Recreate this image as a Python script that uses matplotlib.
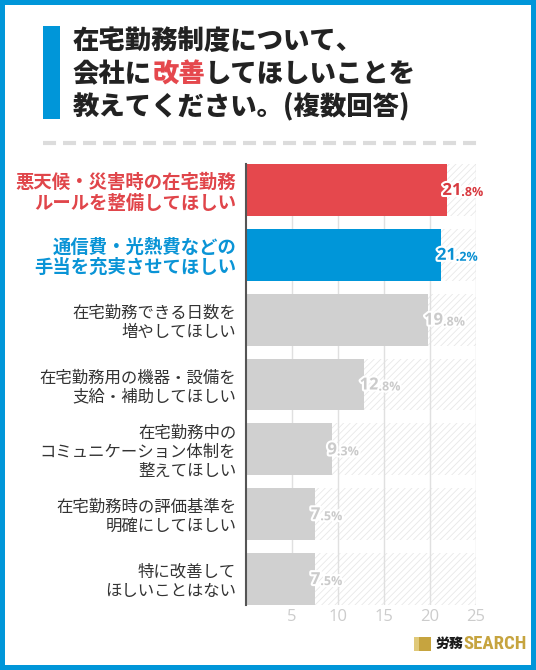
import matplotlib
matplotlib.use('Agg')
import matplotlib.pyplot as plt
from matplotlib.patches import Rectangle
from matplotlib.lines import Line2D
import matplotlib.patheffects as pe
from matplotlib import font_manager

plt.rcParams['font.family'] = ['Noto Sans CJK JP', 'DejaVu Sans']
plt.rcParams['hatch.linewidth'] = 0.6
plt.rcParams['lines.scale_dashes'] = False

# ---- data ----
categories = [
    '悪天候・災害時の在宅勤務\nルールを整備してほしい',
    '通信費・光熱費などの\n手当を充実させてほしい',
    '在宅勤務できる日数を\n増やしてほしい',
    '在宅勤務用の機器・設備を\n支給・補助してほしい',
    '在宅勤務中の\nコミュニケーション体制を\n整えてほしい',
    '在宅勤務時の評価基準を\n明確にしてほしい',
    '特に改善して\nほしいことはない',
]
values = [21.8, 21.2, 19.8, 12.8, 9.3, 7.5, 7.5]
xticks = [5, 10, 15, 20, 25]
xmax = 25

# ---- styles ----
RED = '#e5484d'
BLUE = '#0096d9'
GREY = '#d0d0d0'
bar_colors = [RED, BLUE] + [GREY] * 5
label_colors = ['#e0454a', '#0a94d6'] + ['#333333'] * 5
value_colors = ['#d83a40', '#0a90d2'] + ['#cbcbcb'] * 5
label_bold = [True, True] + [False] * 5

installed = {f.name for f in font_manager.fontManager.ttflist}
narrow = [n for n in ['Roboto Condensed', 'Liberation Sans Narrow'] if n in installed]
logo_family = narrow[0] if narrow else 'Roboto'
logo_size = 13.5 if narrow else 10.5

W, H = 536, 670
fig = plt.figure(figsize=(W / 100, H / 100), dpi=100)
fig.patch.set_facecolor('white')

# outer blue frame
fig.add_artist(Rectangle((0, 0), 1, 1, transform=fig.transFigure, fill=False,
                         ec=BLUE, lw=7.2))

# title accent bar
fig.add_artist(Rectangle((43 / W, 1 - 119 / H), 17 / W, 93 / H,
                         transform=fig.transFigure, fc=BLUE, ec='none'))

# dashed separator
fig.add_artist(Line2D([43 / W, 478 / W], [1 - 143 / H, 1 - 143 / H],
                      transform=fig.transFigure, color='#dcdcdc', lw=3.0,
                      dashes=(9.4, 5.0)))

ax = fig.add_axes([246 / W, 65 / H, 230 / W, 441 / H])

ypos = list(range(len(categories)))
# hatched background track
ax.barh(ypos, [xmax] * len(values), height=0.8, color='white',
        hatch='/////', edgecolor='#e8e8e8', linewidth=0, zorder=1)
for xt in xticks:
    ax.axvline(xt, color='#e0e0e0', lw=1.0, zorder=1.5)
ax.barh(ypos, values, height=0.8, color=bar_colors, zorder=2)

ax.set_xlim(0, xmax)
ax.set_ylim(len(categories) - 0.6, -0.4)
ax.set_xticks(xticks)
ax.set_xticklabels([str(x) for x in xticks], fontfamily='Open Sans',
                   fontsize=12, color='#cccccc')
ax.tick_params(axis='x', length=0, pad=3)
ax.set_yticks(ypos)
ax.set_yticklabels(categories)
ax.tick_params(axis='y', length=0, pad=7)
for lab, c, b in zip(ax.get_yticklabels(), label_colors, label_bold):
    lab.set_color(c)
    lab.set_fontsize(13.2 if b else 11.8)
    lab.set_fontweight('bold' if b else 'normal')
    lab.set_linespacing(1.1 if b else 1.15)

for s in ['top', 'right', 'bottom']:
    ax.spines[s].set_visible(False)
ax.spines['left'].set_color('#555555')
ax.spines['left'].set_linewidth(1.5)
ax.spines['left'].set_zorder(3)

stroke = [pe.withStroke(linewidth=3, foreground='white')]
for y, v, c in zip(ypos, values, value_colors):
    ip, dp = f'{v:.1f}'.split('.')
    t1 = ax.text(v - 0.45, y, ip, fontfamily='Open Sans', fontweight='bold',
                 fontsize=12, color=c, ha='left', va='center', zorder=4,
                 path_effects=stroke)
    ax.annotate('.' + dp + '%', xy=(1, 0), xycoords=t1, ha='left', va='bottom',
                fontfamily='Open Sans', fontweight='bold', fontsize=9,
                color=c, zorder=4, path_effects=stroke)

# title
tkw = dict(fontsize=19, fontweight='heavy', color='#222222')
fig.text(73 / W, 1 - 41 / H, '在宅勤務制度について、', va='center', ha='left', **tkw)
ta = fig.text(73 / W, 1 - 74 / H, '会社に', va='center', ha='left', **tkw)
tb = ax.annotate('改善', xy=(1, 0.5), xycoords=ta, va='center', ha='left',
                 fontsize=19, fontweight='heavy', color=RED)
ax.annotate('してほしいことを', xy=(1, 0.5), xycoords=tb, va='center', ha='left', **tkw)
fig.text(73 / W, 1 - 106 / H, '教えてください。(複数回答)', va='center', ha='left', **tkw)

# logo
GOLD = '#c6a43f'
fig.add_artist(Rectangle((414 / W, 1 - 651 / H), 5 / W, 14 / H,
                         transform=fig.transFigure, fc='#e0c979', ec='none'))
fig.add_artist(Rectangle((419 / W, 1 - 651 / H), 12 / W, 14 / H,
                         transform=fig.transFigure, fc=GOLD, ec='none'))
tl = fig.text(436 / W, 1 - 644 / H, '労務', fontsize=10, fontweight='heavy',
              color='#1a1a1a', va='center', ha='left')
ax.annotate('SEARCH', xy=(1, 0.5), xycoords=tl, va='center', ha='left',
            fontfamily=logo_family, fontweight='bold',
            fontsize=logo_size, color=GOLD)

fig.savefig('out.png', dpi=100)
